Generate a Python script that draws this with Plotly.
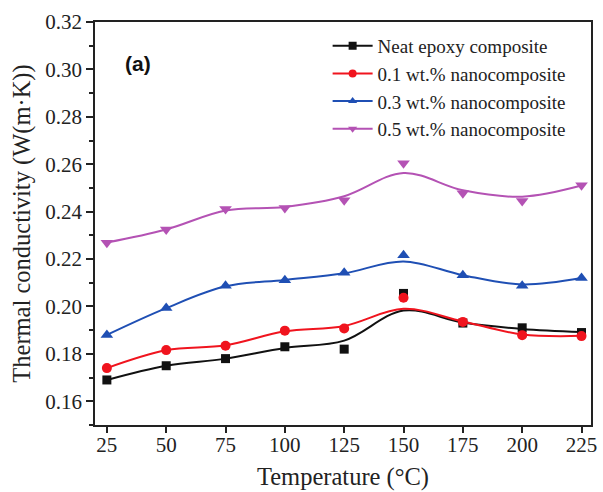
import plotly.graph_objects as go

temperature = [25, 50, 75, 100, 125, 150, 175, 200, 225]

names = ["Neat epoxy composite", "0.1 wt.% nanocomposite",
         "0.3 wt.% nanocomposite", "0.5 wt.% nanocomposite"]

# measured points
neat = [0.169, 0.175, 0.178, 0.183, 0.182, 0.2055, 0.193, 0.191, 0.189]
wt01 = [0.174, 0.1816, 0.1834, 0.1898, 0.1907, 0.2037, 0.1935, 0.1879, 0.1875]
wt03 = [0.188, 0.1994, 0.2087, 0.2111, 0.2142, 0.2216, 0.2132, 0.2087, 0.212]
wt05 = [0.2269, 0.2325, 0.2411, 0.2415, 0.2448, 0.2604, 0.2478, 0.2445, 0.2511]

# fitted smooth curves (at the same temperatures)
neat_fit = [0.169, 0.175, 0.178, 0.1825, 0.1856, 0.1983, 0.1932, 0.1905, 0.1892]
wt01_fit = [0.174, 0.1815, 0.1836, 0.1895, 0.1918, 0.1990, 0.1937, 0.1882, 0.1876]
wt03_fit = [0.188, 0.1993, 0.2085, 0.2112, 0.2140, 0.2190, 0.2132, 0.2093, 0.2120]
wt05_fit = [0.227, 0.2325, 0.2405, 0.2420, 0.2465, 0.2563, 0.2490, 0.2463, 0.2510]

y_ticks = [0.16, 0.18, 0.20, 0.22, 0.24, 0.26, 0.28, 0.30, 0.32]

colors = ["#111111", "#f0141e", "#1f4fb4", "#b452b4"]
symbols = ["square", "circle", "triangle-up", "triangle-down"]
sizes = [9, 10, 11, 11]

data = [neat, wt01, wt03, wt05]
fits = [neat_fit, wt01_fit, wt03_fit, wt05_fit]

fig = go.Figure()
for name, d, f, c, s, sz in zip(names, data, fits, colors, symbols, sizes):
    fig.add_trace(go.Scatter(x=temperature, y=f, mode="lines",
                             line=dict(color=c, width=2, shape="spline", smoothing=1.0),
                             showlegend=False, hoverinfo="skip"))
    fig.add_trace(go.Scatter(x=temperature, y=d, mode="markers",
                             marker=dict(color=c, symbol=s, size=sz),
                             showlegend=False))
    fig.add_trace(go.Scatter(x=[None], y=[None], mode="lines+markers", name=name,
                             line=dict(color=c, width=2),
                             marker=dict(color=c, symbol=s, size=8)))

font_family = "Liberation Serif, Times New Roman, serif"

fig.update_layout(
    width=603, height=492,
    margin=dict(l=95, r=6, t=22, b=65),
    paper_bgcolor="white", plot_bgcolor="white",
    font=dict(family=font_family, size=21, color="#222222"),
    showlegend=True,
    legend=dict(x=0.469, y=0.988, xanchor="left", yanchor="top",
                bgcolor="rgba(0,0,0,0)", borderwidth=0,
                font=dict(family=font_family, size=19, color="#222222"),
                itemwidth=40, tracegroupgap=0),
    annotations=[dict(text="<b>(a)</b>", x=0.057, y=0.896, xref="paper", yref="paper",
                      xanchor="left", yanchor="middle", showarrow=False,
                      font=dict(family="Liberation Sans, Arial, sans-serif", size=21, color="#111111"))],
)

fig.update_xaxes(
    range=[20, 229], tickvals=temperature, ticks="outside", ticklen=6, tickwidth=1.5,
    tickcolor="#222222", showline=True, linecolor="#222222", linewidth=1.5, mirror=True,
    showgrid=False, zeroline=False, ticklabelstandoff=-6,
    title=dict(text="Temperature (°C)", font=dict(size=24.5), standoff=12),
)
fig.update_yaxes(
    range=[0.15, 0.32], tickvals=y_ticks, tickformat=".2f", ticks="outside", ticklen=7,
    tickwidth=1.5, tickcolor="#222222", showline=True, linecolor="#222222", linewidth=1.5,
    mirror=True, showgrid=False, zeroline=False,
    minor=dict(dtick=0.01, tick0=0.15, ticks="outside", ticklen=4, tickcolor="#222222", showgrid=False),
    title=dict(text="Thermal conductivity (W(m·K))", font=dict(size=24.5), standoff=8),
)

fig.write_html("out.html", config={"displayModeBar": False},
               post_script="document.body.style.margin='0';document.body.style.overflow='hidden';")
